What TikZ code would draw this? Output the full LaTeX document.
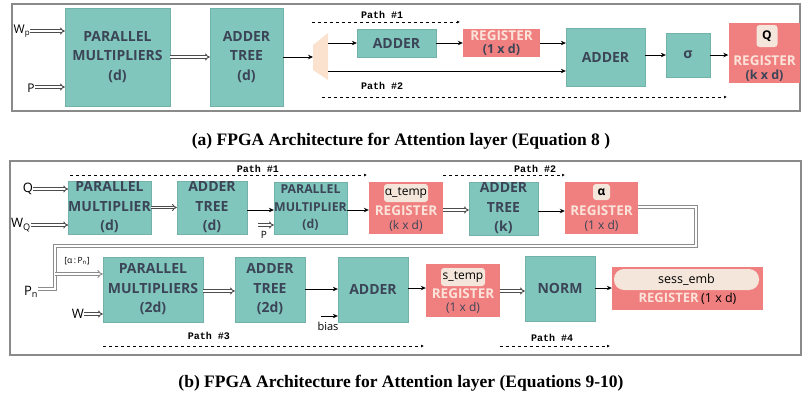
\documentclass[tikz,border=0pt]{standalone}
\usepackage{fontspec}
\setmainfont{Liberation Serif}
\newfontfamily\osans{Open Sans}
\newfontfamily\pmono{Liberation Mono}
\usetikzlibrary{arrows.meta}
\definecolor{tealc}{HTML}{80C6BC}
\definecolor{darktxt}{HTML}{3B4557}
\definecolor{regc}{HTML}{F07F7F}
\definecolor{reglight}{HTML}{FCE3DA}
\definecolor{badgec}{HTML}{F4E6DA}
\definecolor{muxc}{HTML}{FBE2CE}
\definecolor{framec}{HTML}{8A8A8A}
\begin{document}
\begin{tikzpicture}[x=1pt,y=-1pt,
  sz/.style 2 args={minimum width=#1pt, minimum height=#2pt},
  box/.style={fill=tealc, draw=tealc!90!black, line width=0.3pt, text=darktxt,
    font=\osans\bfseries\fontsize{14}{19.5}\selectfont, align=center, inner sep=0pt},
  reg/.style={fill=regc, draw=none, inner sep=0pt},
  badge/.style={fill=badgec, rounded corners=3pt, inner sep=0pt, text=black,
    font=\osans\bfseries\fontsize{12}{13}\selectfont},
  regtxt/.style={text=reglight, font=\osans\bfseries\fontsize{13.5}{15}\selectfont, inner sep=0pt},
  dimtxt/.style={text=darktxt, font=\osans\bfseries\fontsize{12.5}{14}\selectfont, inner sep=0pt},
  lbl/.style={text=black, font=\osans\fontsize{12}{14}\selectfont, inner sep=0pt},
  frame/.style={draw=framec, line width=1.2pt},
  arr/.style={draw=black, line width=1pt, -{Stealth[length=5pt,width=4.5pt]}},
  dbl/.style={draw=black!70, double=white, double distance=1.4pt, line width=0.9pt, -{Implies}},
  loopline/.style={draw=black!45, double=white, double distance=1.8pt, line width=0.9pt},
  pathline/.style={draw=black, line width=0.9pt, dash pattern=on 3pt off 3pt,
    -{Latex[length=3pt,width=3pt]}},
  pathlbl/.style={font=\pmono\bfseries\fontsize{10}{12}\selectfont, inner sep=0pt},
  caption/.style={font=\bfseries\fontsize{17.5}{19}\selectfont, inner sep=0pt}
]
\useasboundingbox (0,0) rectangle (803,402);

%================ Panel (a) ================
\draw[frame] (12,4) rectangle (800,111);

\node[box, sz={105}{98}] (mulA) at (117.5,57) {PARALLEL\\MULTIPLIERS\\(d)};
\node[box, sz={73}{98}] (adA) at (246.5,57) {ADDER\\TREE\\(d)};
\node[lbl] (wp) at (22,31) {W\textsubscript{p}};
\node[lbl] (pa) at (31,88) {P};
\draw[dbl] (wp.east) -- (wp.east -| mulA.west);
\draw[dbl] (pa.east |- 0,87) -- (mulA.west |- 0,87);
\draw[dbl] (mulA.east) -- (adA.west);

% mux
\fill[muxc] (313,45) -- (328,33) -- (328,80) -- (313,70) -- cycle;
\coordinate (muxin) at (313,57);
\coordinate (muxo1) at (328,43);
\coordinate (muxo2) at (328,71);
\draw[arr] (adA.east) -- (muxin);

\node[box, sz={79}{28}] (adder1) at (396.5,43) {ADDER};
\node[reg, sz={77}{28}] (reg1) at (501.5,43) {};
\node[regtxt] (reg1a) at (501.5,35.5) {REGISTER};
\node[dimtxt] (reg1b) at (501.5,50) {(1 x d)};
\node[box, sz={79}{58}] (adder2) at (605.5,57) {ADDER};
\node[box, sz={44}{44}] (sigma) at (688,55) {σ};
\node[reg, sz={71}{60}] (regQ) at (764,53) {};
\node[badge, sz={21}{22}] (qb) at (767,36) {Q};
\node[regtxt] (regQa) at (764.5,61) {REGISTER};
\node[dimtxt] (regQb) at (764.5,76) {(k x d)};

\draw[arr] (muxo1) -- (adder1.west |- muxo1);
\draw[arr] (adder1.east) -- (reg1.west);
\draw[arr] (reg1.east) -- (adder2.west |- reg1.east);
\draw[arr] (muxo2) -- (adder2.west |- muxo2);
\draw[arr] (adder2.east |- sigma.west) -- (sigma.west);
\draw[arr] (sigma.east) -- (sigma.east -| regQ.west);

\coordinate (pa1s) at (312,22); \coordinate (pa1e) at (460,22);
\draw[pathline] (pa1s) -- (pa1e);
\node[pathlbl] (pa1l) at (382,15) {Path \#1};
\coordinate (pa2s) at (322,97); \coordinate (pa2e) at (727,97);
\draw[pathline] (pa2s) -- (pa2e);
\node[pathlbl] (pa2l) at (382,86) {Path \#2};

\node[caption] (capa) at (401,141) {(a) FPGA Architecture for Attention layer (Equation 8 )};

%================ Panel (b) ================
\draw[frame] (10,161) rectangle (801,355);

\node[box, sz={81}{53}] (mulB1) at (109.5,207.5) {PARALLEL\\MULTIPLIER\\(d)};
\node[box, sz={70}{53}] (adB1) at (212,207.5) {ADDER\\TREE\\(d)};
\node[box, sz={73}{52}, font=\osans\bfseries\fontsize{12.3}{17.5}\selectfont] (mulB2) at (310.5,208) {PARALLEL\\MULTIPLIER\\(d)};
\node[reg, sz={74}{52}] (regAT) at (406,208) {};
\node[badge, sz={44}{18}, font=\osans\fontsize{12}{13}\selectfont] (atb) at (406,193) {α\_temp};
\node[regtxt] (regATa) at (406,211) {REGISTER};
\node[dimtxt, font=\osans\fontsize{12}{13}\selectfont] (regATb) at (406,226) {(k x d)};
\node[box, sz={69}{53}] (adB2) at (503.5,208.5) {ADDER\\TREE\\(k)};
\node[reg, sz={73}{52}] (regA) at (601.5,208) {};
\node[badge, sz={17}{16}] (ab) at (601.5,192) {α};
\node[regtxt] (regAa) at (601.5,211) {REGISTER};
\node[dimtxt, font=\osans\fontsize{12}{13}\selectfont] (regAb) at (601.5,226) {(1 x d)};

\node[lbl, font=\osans\fontsize{13}{15}\selectfont] (qin) at (28,189) {Q};
\node[lbl, font=\osans\fontsize{13}{15}\selectfont] (wq) at (21,225) {W\textsubscript{Q}};
\draw[dbl] (qin.east) -- (qin.east -| mulB1.west);
\draw[dbl] (wq.east) -- (wq.east -| mulB1.west);
\draw[dbl] (mulB1.east) -- (adB1.west);
\draw[arr] (adB1.east |- 0,210) -- (mulB2.west |- 0,210);
\node[lbl, font=\osans\fontsize{10}{11}\selectfont] (pbar) at (264,235) {P};
\coordinate (pbs) at (258,225);
\draw[dbl] (pbs) -- (mulB2.west |- pbs);
\draw[arr] (mulB2.east |- 0,210) -- (regAT.west |- 0,210);
\draw[dbl] (regAT.east |- 0,210) -- (adB2.west |- 0,210);
\draw[arr] (adB2.east |- 0,211) -- (regA.west |- 0,211);

% row 2
\node[box, sz={100}{65}] (mulC1) at (153,289.5) {PARALLEL\\MULTIPLIERS\\(2d)};
\node[box, sz={70}{65}] (adC1) at (270,289.5) {ADDER\\TREE\\(2d)};
\node[box, sz={70}{65}] (adderC) at (373,289.5) {ADDER};
\node[reg, sz={74}{53}] (regST) at (463,290.5) {};
\node[badge, sz={44}{18}, font=\osans\fontsize{12}{13}\selectfont] (stb) at (463,277) {s\_temp};
\node[regtxt] (regSTa) at (463,294) {REGISTER};
\node[dimtxt, font=\osans\fontsize{12}{13}\selectfont] (regSTb) at (463,308) {(1 x d)};
\node[box, sz={70}{65}] (norm) at (560,288.5) {NORM};
\node[reg, sz={151}{43}] (regSE) at (687.5,288.5) {};
\node[badge, sz={145}{21}, rounded corners=10pt, font=\osans\fontsize{12.5}{14}\selectfont] (seb) at (686.5,279.5) {sess\_emb};
\node[inner sep=0pt] (regSEa) at (687.5,299) {\textcolor{reglight}{\osans\bfseries\fontsize{13}{14}\selectfont REGISTER} \textcolor{black}{\osans\fontsize{12.5}{13}\selectfont(1 x d)}};

% loop-back from alpha register
\node[lbl, font=\osans\fontsize{13}{15}\selectfont] (pn) at (31,292) {P\textsubscript{n}};
\coordinate (lp1) at (696,207);
\coordinate (lp2) at (696,246);
\coordinate (lp3) at (55,246);
\coordinate (lp4) at (55,289);
\coordinate (lpj) at (55,274);
\draw[loopline] (regA.east |- lp1) -- (lp1) -- (lp2) -- (lp3) -- (lp4) -- (pn.east |- lp4);
\draw[loopline, -{Implies}] (lpj) -- (mulC1.west |- lpj);
\node[lbl, font=\osans\fontsize{8.5}{10}\selectfont] (alp) at (77,261) {[α\,:\,P\textsubscript{n}]};

\node[lbl, font=\osans\fontsize{13}{15}\selectfont] (win) at (78,314) {W};
\draw[dbl] (win.east) -- (win.east -| mulC1.west);
\draw[dbl] (mulC1.east |- 0,291) -- (adC1.west |- 0,291);
\draw[arr] (adC1.east |- 0,289) -- (adderC.west |- 0,289);
\node[lbl, font=\osans\fontsize{11}{12}\selectfont] (bias) at (328,326) {bias};
\coordinate (bs) at (321,316);
\draw[arr] (bs) -- (adderC.west |- bs);
\draw[arr] (adderC.east |- 0,288) -- (regST.west |- 0,288);
\draw[dbl] (regST.east |- 0,291) -- (norm.west |- 0,291);
\draw[arr] (norm.east |- 0,288) -- (regSE.west |- 0,288);

% paths
\coordinate (pb1s) at (70,175); \coordinate (pb1e) at (367,175);
\draw[pathline] (pb1s) -- (pb1e);
\node[pathlbl] (pb1l) at (258,169) {Path \#1};
\coordinate (pb2s) at (443,175); \coordinate (pb2e) at (565,175);
\draw[pathline] (pb2s) -- (pb2e);
\node[pathlbl] (pb2l) at (535,169) {Path \#2};
\coordinate (pb3s) at (103,346); \coordinate (pb3e) at (424,346);
\draw[pathline] (pb3s) -- (pb3e);
\node[pathlbl] (pb3l) at (209,336) {Path \#3};
\coordinate (pb4s) at (500,346); \coordinate (pb4e) at (610,346);
\draw[pathline] (pb4s) -- (pb4e);
\node[pathlbl] (pb4l) at (552,338) {Path \#4};

\node[caption] (capb) at (401,383) {(b) FPGA Architecture for Attention layer (Equations 9-10)};
\end{tikzpicture}
\end{document}
